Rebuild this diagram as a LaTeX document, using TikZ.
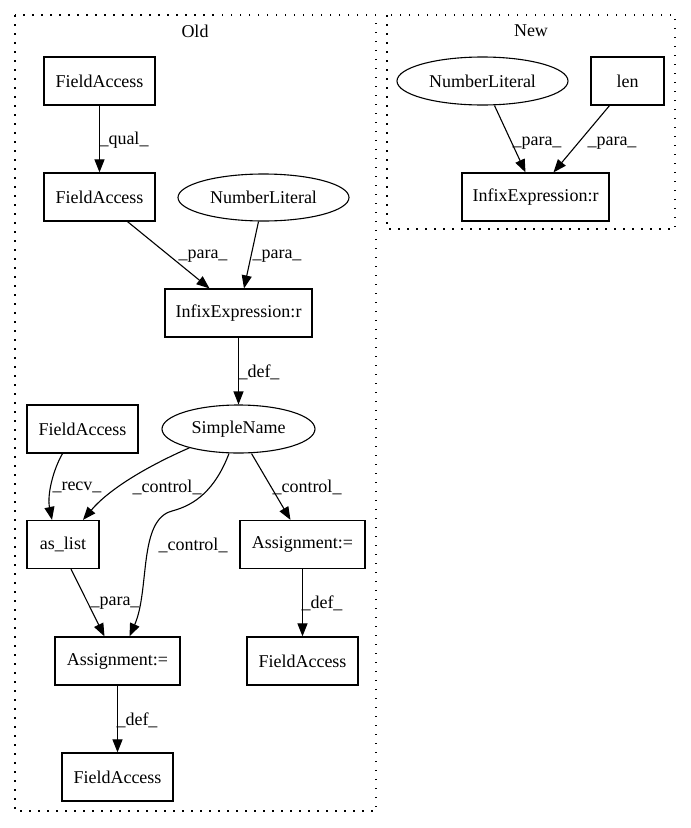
\documentclass[tikz,border=0pt]{standalone}
\usepackage{fontspec}
\setmainfont{Liberation Serif}
\usetikzlibrary{shapes.geometric,arrows.meta}
\begin{document}
\begin{tikzpicture}[x=1pt,y=-1pt,
  font=\fontsize{18}{21}\selectfont,
  box/.style={draw,line width=1.2pt,rectangle,inner sep=0pt,minimum height=48pt},
  oval/.style={draw,line width=1.1pt,ellipse,inner sep=0pt,minimum height=48pt},
  edge/.style={line width=1.1pt,-{Triangle[length=13pt,width=10pt]}},
  lbl/.style={inner sep=0pt},
  cluster/.style={line width=1.2pt,dash pattern=on 1.5pt off 7.5pt}]
\useasboundingbox (0,0) rectangle (691,828);
% clusters
\draw[cluster] (15,15) rectangle (376,811);
\draw[cluster] (387,15) rectangle (675,229);
\node[lbl] (oldlbl) at (195,31) {Old};
\node[lbl] (newlbl) at (531,31) {New};
% Old nodes
\node[box,minimum width=111pt] (fa1) at (99.5,81) {FieldAccess};
\node[box,minimum width=111pt] (fa2) at (99.5,197) {FieldAccess};
\node[oval,minimum width=171pt,minimum height=47pt] (nl1) at (263.5,197.5) {NumberLiteral};
\node[box,minimum width=147pt] (inf1) at (238.5,313) {InfixExpression:r};
\node[oval,minimum width=153pt] (sn) at (238.5,429) {SimpleName};
\node[box,minimum width=111pt] (fa3) at (82.5,429) {FieldAccess};
\node[box,minimum width=72pt] (aslist) at (63,544.5) {as\_list};
\node[box,minimum width=125pt] (asg2) at (302.5,544.5) {Assignment:=};
\node[box,minimum width=125pt] (asg1) at (117.5,661) {Assignment:=};
\node[box,minimum width=111pt] (fa4) at (302.5,661) {FieldAccess};
\node[box,minimum width=111pt] (fa5) at (117.5,777) {FieldAccess};
% New nodes
\node[oval,minimum width=171pt] (nl2) at (482.5,81) {NumberLiteral};
\node[box,minimum width=73pt] (len) at (627.5,81) {len};
\node[box,minimum width=147pt] (inf2) at (535.5,197) {InfixExpression:r};
% Old edges
\draw[edge] (fa1.south) -- (fa2.north);
\node[lbl] (l1) at (124,140) {\_qual\_};
\draw[edge] ([xshift=28pt]fa2.south) -- ([xshift=-29pt]inf1.north);
\node[lbl] (l2) at (203,256) {\_para\_};
\draw[edge] ([xshift=-5pt]nl1.south) -- ([xshift=5.5pt]inf1.north);
\node[lbl] (l3) at (277,256) {\_para\_};
\draw[edge] (inf1.south) -- (sn.north);
\node[lbl] (l4) at (259,372) {\_def\_};
\draw[edge] ([xshift=-20pt]fa3.south) .. controls (53,470) and (47,495) .. ([xshift=-11pt]aslist.north);
\node[lbl] (l5) at (77,487) {\_recv\_};
\draw[edge] (sn.201) .. controls (150,465) and (110,488) .. ([xshift=20pt]aslist.north);
\node[lbl] (l6) at (167,487) {\_control\_};
\draw[edge] ([xshift=13pt]sn.south) -- ([xshift=-12pt]asg2.north);
\node[lbl] (l7) at (307,487) {\_control\_};
\draw[edge] ([xshift=-9.5pt]sn.south) .. controls (215,490) and (195,505) .. (172,511) .. controls (138,520) and (150,590) .. ([xshift=12pt]asg1.north);
\node[lbl] (l8) at (193,545) {\_control\_};
\draw[edge] ([xshift=8pt]aslist.south) -- ([xshift=-13pt]asg1.north);
\node[lbl] (l9) at (115,603) {\_para\_};
\draw[edge] (asg2.south) -- (fa4.north);
\node[lbl] (l10) at (322,603) {\_def\_};
\draw[edge] (asg1.south) -- (fa5.north);
\node[lbl] (l11) at (137,720) {\_def\_};
% New edges
\draw[edge] ([xshift=12pt]nl2.south) -- ([xshift=-10pt]inf2.north);
\node[lbl] (l12) at (537,143) {\_para\_};
\draw[edge] ([xshift=-18pt]len.south) -- ([xshift=18pt]inf2.north);
\node[lbl] (l13) at (612,143) {\_para\_};
\end{tikzpicture}
\end{document}
